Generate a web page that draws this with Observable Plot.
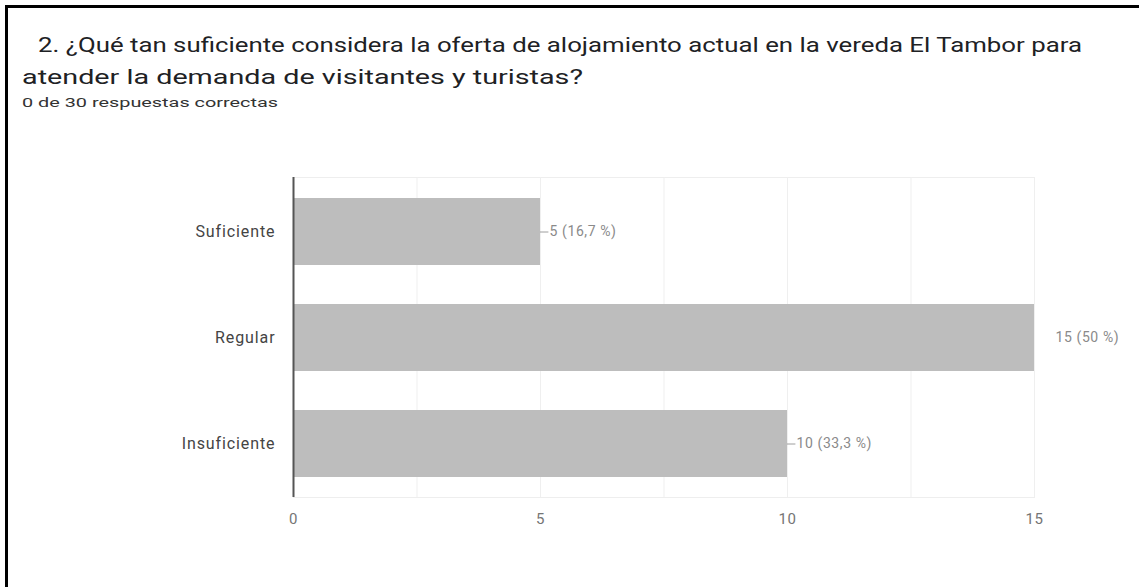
<!DOCTYPE html>
<html>
<head>
<meta charset="utf-8">
<script src="https://cdn.jsdelivr.net/npm/d3@7"></script>
<script src="https://cdn.jsdelivr.net/npm/@observablehq/plot@0.6"></script>
<style>
  html, body { margin: 0; padding: 0; background: #fff; overflow: hidden; }
  #page { position: relative; width: 1139px; height: 587px; overflow: hidden; font-family: Roboto, "Noto Sans", sans-serif; }
  #bt { position: absolute; left: 5px; top: 5px; width: 1134px; height: 3px; background: #000; }
  #bl { position: absolute; left: 5px; top: 5px; width: 3px; height: 582px; background: #000; }
  .t { position: absolute; font-size: 21px; color: #202124; white-space: pre; transform-origin: 0 0; line-height: 1; }
  .s { position: absolute; font-size: 12.5px; color: #333; white-space: pre; transform-origin: 0 0; line-height: 1; }
  #chart { position: absolute; left: 0; top: 120px; }
</style>
</head>
<body>
<div id="page">
  <div id="bt"></div>
  <div id="bl"></div>
  <div class="t" id="t1"></div>
  <div class="t" id="t2"></div>
  <div class="s" id="sub"></div>
  <div id="chart"></div>
</div>
<script>
const titleLines = ["2. ¿Qué tan suficiente considera la oferta de alojamiento actual en la vereda El Tambor para", "atender la demanda de visitantes y turistas?"];
const subtitle = "0 de 30 respuestas correctas";
const categories = ["Suficiente", "Regular", "Insuficiente"];
const counts = [5, 15, 10];
const valueLabels = ["5 (16,7 %)", "15 (50 %)", "10 (33,3 %)"];
const xTicks = [0, 5, 10, 15];
const gridTicks = [2.5, 5, 7.5, 10, 12.5, 15];

// place a text line: left x, top y, target width
function place(id, text, left, top, targetW) {
  const el = document.getElementById(id);
  el.textContent = text;
  el.style.left = left + "px";
  el.style.top = top + "px";
  const w = el.getBoundingClientRect().width;
  if (targetW && w > 0) el.style.transform = `scaleX(${targetW / w})`;
}
place("t1", titleLines[0], 38, 35, 1044);
place("t2", titleLines[1], 22, 67, 561);
place("sub", subtitle, 22, 97, 256);

const data = categories.map((c, i) => ({cat: c, value: counts[i], label: valueLabels[i]}));
const inside = data.filter(d => d.value < 15);
const outside = data.filter(d => d.value >= 15);

const chart = Plot.plot({
  width: 1139,
  height: 467,
  marginLeft: 293,
  marginRight: 105,
  marginTop: 57,
  marginBottom: 90,
  style: {fontFamily: "Roboto, sans-serif", fontSize: "14px", background: "transparent"},
  x: {domain: [0, 15], axis: null},
  y: {domain: categories, axis: null, paddingInner: 0.37, paddingOuter: 0.19},
  marks: [
    Plot.frame({stroke: "#eeeeee"}),
    Plot.ruleX(gridTicks, {stroke: "#efefef", strokeWidth: 1}),
    Plot.barX(data, {x: "value", y: "cat", fill: "#bdbdbd"}),
    Plot.ruleX([0], {stroke: "#555", strokeWidth: 2}),
    Plot.ruleY(inside, {x1: "value", x2: d => d.value + 0.17, y: "cat", stroke: "#9e9e9e", strokeWidth: 1}),
    Plot.text(inside, {x: "value", y: "cat", text: "label", textAnchor: "start", dx: 9, fill: "#8a8a8a", fontSize: 14}),
    Plot.text(outside, {x: "value", y: "cat", text: "label", textAnchor: "start", dx: 21, fill: "#8a8a8a", fontSize: 14}),
    Plot.axisY({tickSize: 0, tickPadding: 18, fill: "#444", fontSize: 16, label: null, className: "ycat"}),
    Plot.axisX({ticks: xTicks, tickSize: 0, tickPadding: 16, fill: "#757575", fontSize: 15, label: null, tickFormat: d => String(d)})
  ]
});
d3.select(chart).selectAll("text").style("letter-spacing", "0.6px");
d3.select(chart).selectAll("[aria-label='y-axis tick label'] text").style("letter-spacing", "0.9px");
document.getElementById("chart").appendChild(chart);
</script>
</body>
</html>
